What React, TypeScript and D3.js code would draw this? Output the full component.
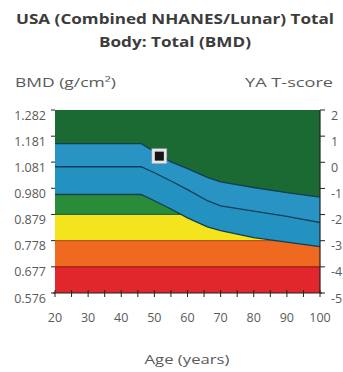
import React from "react";
import * as d3 from "d3";

const ages = [20, 30, 40, 46, 50, 55, 60, 66, 70, 80, 90, 100];
const upperBMD = [1.152, 1.152, 1.152, 1.152, 1.122, 1.082, 1.056, 1.022, 1.005, 0.983, 0.963, 0.946];
const meanBMD = [1.063, 1.063, 1.063, 1.063, 1.04, 1.008, 0.975, 0.932, 0.912, 0.892, 0.872, 0.848];
const lowerBMD = [0.956, 0.956, 0.956, 0.956, 0.932, 0.9, 0.866, 0.831, 0.817, 0.79, 0.772, 0.755];

const bmdTicks = [1.282, 1.181, 1.081, 0.98, 0.879, 0.778, 0.677, 0.576];
const tTicks = [2, 1, 0, -1, -2, -3, -4, -5];
const ageTicks = [20, 30, 40, 50, 60, 70, 80, 90, 100];
const ageMinorTicks = d3.range(20, 101, 5);

const bandLimits = [0.879, 0.778, 0.677, 0.576];
const bandColors = ["#f3e41d", "#ef6a20", "#e1272b"];
const bandEdge = ["#2d6b25", "#b4560f", "#9e1c14"];

const patientAge = [51.5];
const patientBMD = [1.104];

const W = 343;
const H = 372;
const L = 55, R = 320, T = 110, B = 293;

export default function App() {
  const x = d3.scaleLinear().domain([20, 100]).range([L, R]);
  const y = d3.scaleLinear().domain([0.576, 1.282]).range([B, T]);
  const yT = d3.scaleLinear().domain([-5, 2]).range([B, T]);

  const pts = ages.map((a, i) => ({ a, u: upperBMD[i], m: meanBMD[i], l: lowerBMD[i] }));
  const areaBelowLower = d3.area<any>().x(d => x(d.a)).y0(B).y1(d => y(d.l));
  const upperBand = d3.area<any>().x(d => x(d.a)).y0(d => y(d.m)).y1(d => y(d.u));
  const lowerBand = d3.area<any>().x(d => x(d.a)).y0(d => y(d.l)).y1(d => y(d.m));
  const lineU = d3.line<any>().x(d => x(d.a)).y(d => y(d.u));
  const lineM = d3.line<any>().x(d => x(d.a)).y(d => y(d.m));
  const lineL = d3.line<any>().x(d => x(d.a)).y(d => y(d.l));

  const font = "'Open Sans', 'DejaVu Sans', sans-serif";
  const px = x(patientAge[0]);
  const py = y(patientBMD[0]);
  const txt = "#5a5a5a";

  return (
    <svg width={W} height={H} style={{ position: "absolute", left: 0, top: 0, background: "#fff" }} fontFamily={font}>
      <text x={175} y={24} textAnchor="middle" fontSize={13.5} fontWeight="bold" fill="#3c3c3c" textLength={318} lengthAdjust="spacingAndGlyphs">USA (Combined NHANES/Lunar) Total</text>
      <text x={175} y={46.5} textAnchor="middle" fontSize={13.5} fontWeight="bold" fill="#3c3c3c" textLength={152} lengthAdjust="spacingAndGlyphs">Body: Total (BMD)</text>
      <text x={15} y={87} fontSize={12.5} fill={txt} textLength={101} lengthAdjust="spacingAndGlyphs">BMD (g/cm²)</text>
      <text x={245} y={87} fontSize={12.5} fill={txt} textLength={88} lengthAdjust="spacingAndGlyphs">YA T-score</text>

      <rect x={L} y={T} width={R - L} height={B - T} fill="#1b6a34" />
      <path d={areaBelowLower(pts) || ""} fill="#2a8b3b" />
      {bandColors.map((c, i) => (
        <g key={i}>
          <rect x={L} y={y(bandLimits[i])} width={R - L} height={y(bandLimits[i + 1]) - y(bandLimits[i])} fill={c} />
          <line x1={L} x2={R} y1={y(bandLimits[i])} y2={y(bandLimits[i])} stroke={bandEdge[i]} strokeWidth={1.3} />
        </g>
      ))}
      <path d={upperBand(pts) || ""} fill="#2994c4" />
      <path d={lowerBand(pts) || ""} fill="#2392c0" />
      <path d={lineU(pts) || ""} fill="none" stroke="#123e4e" strokeWidth={1.3} />
      <path d={lineM(pts) || ""} fill="none" stroke="#123e5a" strokeWidth={1.3} />
      <path d={lineL(pts) || ""} fill="none" stroke="#123e4e" strokeWidth={1.3} />

      <rect x={px - 7.5} y={py - 7.5} width={15} height={15} fill="#e6e6e6" stroke="#999" strokeWidth={0.5} />
      <rect x={px - 4.5} y={py - 4.5} width={9} height={9} fill="#151515" />

      <line x1={R} x2={R} y1={T} y2={B} stroke="#222" strokeWidth={1.2} />
      <line x1={L - 2} x2={R + 2} y1={B} y2={B} stroke="#222" strokeWidth={1.2} />
      {ageMinorTicks.map(a => (
        <line key={a} x1={x(a)} x2={x(a)} y1={B - 3} y2={B + 4} stroke="#222" strokeWidth={1} />
      ))}
      {ageTicks.map(a => (
        <text key={a} x={x(a)} y={322} textAnchor="middle" fontSize={12.5} fill={txt}>{a}</text>
      ))}
      {bmdTicks.map(v => (
        <g key={v}>
          <line x1={L - 4} x2={L} y1={y(v)} y2={y(v)} stroke="#222" strokeWidth={1} />
          <text x={46} y={y(v) + 9.5} textAnchor="end" fontSize={12.5} fill={txt}>{v.toFixed(3)}</text>
        </g>
      ))}
      {tTicks.map(t => (
        <g key={t}>
          <line x1={R} x2={R + 5} y1={yT(t)} y2={yT(t)} stroke="#222" strokeWidth={1} />
          <text x={331} y={yT(t) + 9.5} fontSize={12.5} fill={txt}>{t < 0 ? "-" + Math.abs(t) : String(t)}</text>
        </g>
      ))}
      <text x={187} y={364} textAnchor="middle" fontSize={12.5} fill={txt} textLength={85} lengthAdjust="spacingAndGlyphs">Age (years)</text>
    </svg>
  );
}
